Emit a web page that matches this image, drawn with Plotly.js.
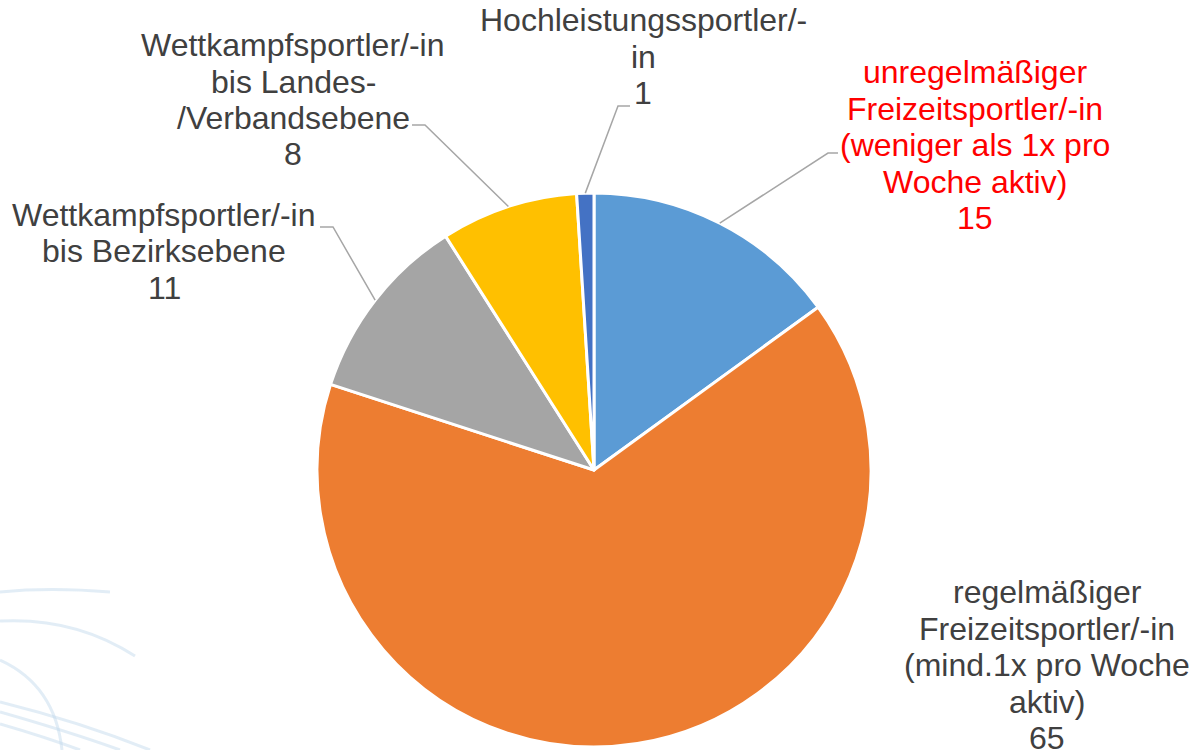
<!DOCTYPE html>
<html>
<head>
<meta charset="utf-8">
<script src="https://cdn.plot.ly/plotly-3.0.1.min.js"></script>
<style>html,body{margin:0;padding:0;background:#fff;}#chart{width:1193px;height:750px;}</style>
</head>
<body>
<div id="chart"></div>
<script>
// ---- data ----
const categories = [
  "unregelmäßiger Freizeitsportler/-in (weniger als 1x pro Woche aktiv)",
  "regelmäßiger Freizeitsportler/-in (mind.1x pro Woche aktiv)",
  "Wettkampfsportler/-in bis Bezirksebene",
  "Wettkampfsportler/-in bis Landes-/Verbandsebene",
  "Hochleistungssportler/-in"
];
const labelLines = [
  ["unregelmäßiger", "Freizeitsportler/-in", "(weniger als 1x pro", "Woche aktiv)"],
  ["regelmäßiger", "Freizeitsportler/-in", "(mind.1x pro Woche", "aktiv)"],
  ["Wettkampfsportler/-in", "bis Bezirksebene"],
  ["Wettkampfsportler/-in", "bis Landes-", "/Verbandsebene"],
  ["Hochleistungssportler/-", "in"]
];
const values = [15, 65, 11, 8, 1];
const colors = ["#5B9BD5", "#ED7D31", "#A5A5A5", "#FFC000", "#4472C4"];
const labelColors = ["#FF0000", "#404040", "#404040", "#404040", "#404040"];

// ---- layout constants (pixels) ----
const W = 1193, H = 750;
const CX = 594, CY = 470, R = 277;
const LINE_GAP = 36.5;
const FONT = "Arial, 'Liberation Sans', sans-serif";
const FS = 32;
// label block centre x and first-line centre y
const labelPos = [[975, 72], [1047, 592], [164, 215], [293, 45], [643, 20]];
// leader: elbow point and end point (null = no leader)
const leaders = [
  [[828, 153], [838, 153]],
  null,
  [[333, 227], [320, 227]],
  [[425, 125], [412, 125]],
  [[618, 106], [630, 106]]
];

const px = x => x / W;
const py = y => 1 - y / H;

const total = values.reduce((a, b) => a + b, 0);
const annotations = [];
const shapes = [];

// decorative faint background curves
const deco = [
  "M 0 592 Q 50 587 110 592",
  "M 0 621 Q 75 617 135 656",
  "M 0 660 Q 55 685 62 750",
  "M 0 702 Q 80 722 150 750",
  "M 0 712 Q 70 732 120 750",
  "M 0 724 Q 45 737 80 750"
];
deco.forEach(d => {
  const conv = d.replace(/(-?\d+(\.\d+)?) (-?\d+(\.\d+)?)/g, (m, a, b, c) => px(+a).toFixed(5) + " " + py(+c).toFixed(5));
  shapes.push({type: "path", xref: "paper", yref: "paper", path: conv,
    line: {color: "rgba(190,215,236,0.45)", width: 3}, layer: "below"});
});

let cum = 0;
values.forEach((v, i) => {
  const mid = (cum + v / 2) / total * 2 * Math.PI;
  cum += v;
  const lines = labelLines[i].concat([String(v)]);
  lines.forEach((t, k) => {
    annotations.push({
      xref: "paper", yref: "paper",
      x: px(labelPos[i][0]), y: py(labelPos[i][1] + k * LINE_GAP),
      xanchor: "center", yanchor: "middle",
      text: t, showarrow: false,
      font: {family: FONT, size: FS, color: labelColors[i]}
    });
  });
  if (leaders[i]) {
    const sx = CX + R * Math.sin(mid), sy = CY - R * Math.cos(mid);
    const [e, f] = leaders[i];
    shapes.push({type: "path", xref: "paper", yref: "paper",
      path: `M ${px(sx)} ${py(sy)} L ${px(e[0])} ${py(e[1])} L ${px(f[0])} ${py(f[1])}`,
      line: {color: "#A6A6A6", width: 1.5}});
  }
});

const trace = {
  type: "pie",
  labels: categories,
  values: values,
  sort: false,
  direction: "clockwise",
  rotation: 0,
  marker: {colors: colors, line: {color: "#FFFFFF", width: 3}},
  textinfo: "none",
  hoverinfo: "label+value",
  showlegend: false,
  domain: {x: [px(CX - R), px(CX + R)], y: [py(CY + R), py(CY - R)]}
};

Plotly.newPlot("chart", [trace], {
  width: W, height: H,
  margin: {l: 0, r: 0, t: 0, b: 0},
  paper_bgcolor: "#FFFFFF",
  showlegend: false,
  annotations: annotations,
  shapes: shapes
}, {displayModeBar: false, staticPlot: true});
</script>
</body>
</html>
